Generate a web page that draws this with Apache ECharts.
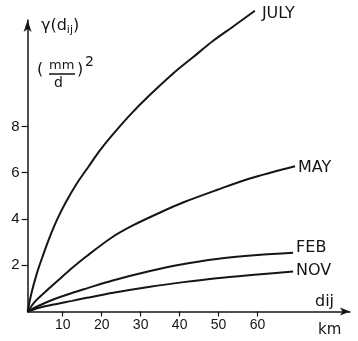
<!DOCTYPE html>
<html>
<head>
<meta charset="utf-8">
<script src="https://cdn.jsdelivr.net/npm/echarts@6/dist/echarts.min.js"></script>
<style>
html,body{margin:0;padding:0;background:#fff;}
#chart{width:358px;height:341px;}
</style>
</head>
<body>
<div id="chart"></div>
<script>
// ---- data ----
const xTicks = [10, 20, 30, 40, 50, 60];
const yTicks = [2, 4, 6, 8];

const julyKm  = [1, 2, 3.4, 5, 6.4, 8.5, 10.7, 13.5, 16.7, 19.5, 22.6, 27.3, 32, 38.4, 43.5, 48.6, 54, 59.3];
const julyVal = [0, 0.8, 1.66, 2.45, 3.1, 3.95, 4.69, 5.5, 6.28, 6.95, 7.6, 8.5, 9.3, 10.3, 11.0, 11.7, 12.35, 13.0];

const mayKm  = [1, 3, 6.4, 9.3, 12.4, 16.2, 22.6, 28, 35, 41, 49.5, 58, 69.6];
const mayVal = [0, 0.45, 0.98, 1.42, 1.88, 2.4, 3.2, 3.72, 4.28, 4.72, 5.25, 5.75, 6.28];

const febKm  = [1, 4, 7.6, 12.4, 16.2, 22.6, 32.4, 40, 49.5, 60, 69.1];
const febVal = [0, 0.26, 0.52, 0.8, 1.0, 1.33, 1.75, 2.02, 2.27, 2.44, 2.54];

const novKm  = [1, 4, 7.6, 12.4, 16.2, 22.6, 32.4, 41, 49.5, 60, 69.1];
const novVal = [0, 0.16, 0.3, 0.46, 0.59, 0.8, 1.07, 1.27, 1.44, 1.6, 1.73];

function pairs(xs, ys) { return xs.map((x, i) => [x, ys[i]]); }

const ink = '#151515';
const font = 'DejaVu Sans';

const chart = echarts.init(document.getElementById('chart'), null, {renderer: 'canvas'});

function lineSeries(name, xs, ys, labelOffset, dist) {
  return {
    name: name,
    type: 'line',
    data: pairs(xs, ys),
    smooth: 0.3,
    showSymbol: false,
    clip: false,
    silent: true,
    lineStyle: {color: ink, width: 2},
    endLabel: {
      show: true,
      formatter: '{a}',
      color: ink,
      fontFamily: font,
      fontSize: 16,
      distance: dist,
      offset: labelOffset
    }
  };
}

chart.setOption({
  animation: false,
  backgroundColor: '#fff',
  grid: {left: 27.6, right: 358 - 350, top: 20, bottom: 29.5},
  xAxis: {
    type: 'value',
    min: 1,
    max: 83.7,
    splitLine: {show: false},
    axisLine: {show: true, lineStyle: {color: ink, width: 1.5}, symbol: ['none', 'arrow'], symbolSize: [6, 10]},
    axisTick: {show: true, length: 5, customValues: xTicks, lineStyle: {color: ink, width: 1.2}},
    axisLabel: {customValues: xTicks, color: ink, fontFamily: 'Liberation Sans', fontSize: 14, margin: 7}
  },
  yAxis: {
    type: 'value',
    min: 0,
    max: 12.6,
    splitLine: {show: false},
    axisLine: {show: true, lineStyle: {color: ink, width: 1.5}, symbol: ['none', 'arrow'], symbolSize: [6, 12]},
    axisTick: {show: true, length: 6, customValues: yTicks, lineStyle: {color: ink, width: 1.2}},
    axisLabel: {customValues: yTicks, color: ink, fontFamily: 'Liberation Sans', fontSize: 15, margin: 8}
  },
  series: [
    lineSeries('JULY', julyKm, julyVal, [0, 3], 7),
    lineSeries('MAY', mayKm, mayVal, [0, 2], 3),
    lineSeries('FEB', febKm, febVal, [0, -5], 3),
    lineSeries('NOV', novKm, novVal, [0, -1], 3)
  ],
  graphic: [
    {type: 'text', left: 41, top: 18, style: {
      text: '{a|γ(d}{s|ij}{a|)}',
      fill: ink,
      rich: {
        a: {fontFamily: font, fontSize: 16, fill: ink},
        s: {fontFamily: font, fontSize: 11, fill: ink, verticalAlign: 'bottom', padding: [8, 0, 0, 0]}
      }
    }},
    {type: 'text', left: 37, top: 62, style: {text: '(', fontFamily: font, fontSize: 16, fill: ink}},
    {type: 'text', left: 49, top: 59, style: {text: 'mm', fontFamily: font, fontSize: 13, fill: ink}},
    {type: 'line', shape: {x1: 49, y1: 74, x2: 75, y2: 74}, style: {stroke: ink, lineWidth: 1.5}},
    {type: 'text', left: 54, top: 76, style: {text: 'd', fontFamily: font, fontSize: 14, fill: ink}},
    {type: 'text', left: 77, top: 62, style: {text: ')', fontFamily: font, fontSize: 16, fill: ink}},
    {type: 'text', left: 85, top: 55, style: {text: '2', fontFamily: font, fontSize: 14, fill: ink}},
    {type: 'text', left: 315, top: 294, style: {text: 'dij', fontFamily: font, fontSize: 16, fill: ink}},
    {type: 'text', left: 318, top: 323, style: {text: 'km', fontFamily: font, fontSize: 15, fill: ink}}
  ]
});
</script>
</body>
</html>
